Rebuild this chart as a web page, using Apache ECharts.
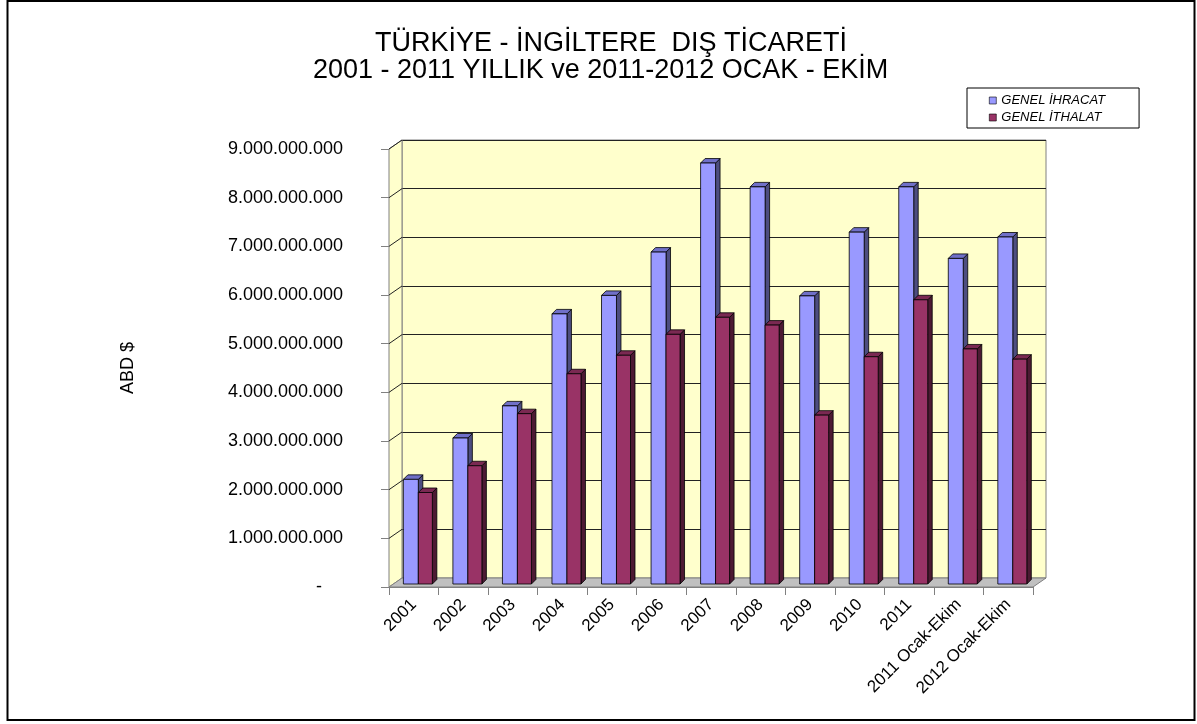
<!DOCTYPE html>
<html>
<head>
<meta charset="utf-8">
<script src="https://cdn.jsdelivr.net/npm/echarts@6/dist/echarts.min.js"></script>
<style>
html,body{margin:0;padding:0;background:#fff;}
#chart{width:1197px;height:724px;}
</style>
</head>
<body>
<div id="chart"></div>
<script>
var categories = ['2001','2002','2003','2004','2005','2006','2007','2008','2009','2010','2011','2011 Ocak-Ekim','2012 Ocak-Ekim'];
var ihracat = [2.15e9, 3.00e9, 3.66e9, 5.55e9, 5.93e9, 6.82e9, 8.65e9, 8.16e9, 5.92e9, 7.23e9, 8.16e9, 6.69e9, 7.13e9];
var ithalat = [1.88e9, 2.43e9, 3.50e9, 4.32e9, 4.70e9, 5.13e9, 5.48e9, 5.32e9, 3.47e9, 4.67e9, 5.84e9, 4.83e9, 4.62e9];
var seriesNames = ['GENEL İHRACAT', 'GENEL İTHALAT'];
var titleLines = ['TÜRKİYE - İNGİLTERE  DIŞ TİCARETİ', '2001 - 2011 YILLIK ve 2011-2012 OCAK - EKİM'];
var yName = 'ABD $';
var yMin = 0, yMax = 9e9, yStep = 1e9;

var FONT = 'Liberation Sans, Arial, sans-serif';
var DEPTH_X = 13, DEPTH_Y = -9;    // back wall offset
var BAR_DX = 4.5, BAR_DY = -4.5;   // bar depth
var BASE_SHIFT_Y = -3;

function fmt(v) {
  if (v === 0) return '{d|-}';
  return String(Math.round(v)).replace(/\B(?=(\d{3})+(?!\d))/g, '.');
}

function barRender(which, colors) {
  return function (params, api) {
    var idx = api.value(0);
    var val = api.value(1);
    var base = api.coord([idx, 0]);
    var top = api.coord([idx, val]);
    var w = api.size([1, 0])[0];
    var x0, x1;
    if (which === 0) { x0 = base[0] - 0.21 * w; x1 = base[0] + 0.092 * w; }
    else { x0 = base[0] + 0.092 * w; x1 = base[0] + 0.375 * w; }
    var yb = base[1] + BASE_SHIFT_Y, yt = top[1] + BASE_SHIFT_Y;
    var lw = 0.8;
    return {
      type: 'group',
      children: [
        { type: 'polygon', shape: { points: [[x1, yb], [x1, yt], [x1 + BAR_DX, yt + BAR_DY], [x1 + BAR_DX, yb + BAR_DY]] },
          style: { fill: colors.side, stroke: '#000', lineWidth: lw } },
        { type: 'polygon', shape: { points: [[x0, yt], [x1, yt], [x1 + BAR_DX, yt + BAR_DY], [x0 + BAR_DX, yt + BAR_DY]] },
          style: { fill: colors.top, stroke: '#000', lineWidth: lw } },
        { type: 'rect', shape: { x: x0, y: yt, width: x1 - x0, height: yb - yt },
          style: { fill: colors.front, stroke: '#000', lineWidth: lw } }
      ]
    };
  };
}

function wallsRender(params, api) {
  var n = categories.length;
  var bl = api.coord([0, yMin]); var tl = api.coord([0, yMax]);
  var w = api.size([1, 0])[0];
  var left = bl[0] - w / 2, right = bl[0] + (n - 0.5) * w;
  var yb = bl[1], yt = tl[1];
  var children = [];
  children.push({ type: 'polygon', shape: { points: [[left, yb], [left, yt], [left + DEPTH_X, yt + DEPTH_Y], [left + DEPTH_X, yb + DEPTH_Y]] },
    style: { fill: '#FFFFCC', stroke: '#808080', lineWidth: 1 } });
  for (var v = yMin + yStep; v <= yMax; v += yStep) {
    var p = api.coord([0, v]);
    children.push({ type: 'line', shape: { x1: left, y1: p[1], x2: left + DEPTH_X, y2: p[1] + DEPTH_Y },
      style: { stroke: '#222', lineWidth: 1 } });
  }
  children.push({ type: 'polygon', shape: { points: [[left, yb], [right, yb], [right + DEPTH_X, yb + DEPTH_Y], [left + DEPTH_X, yb + DEPTH_Y]] },
    style: { fill: '#C0C0C0', stroke: '#808080', lineWidth: 1 } });
  return { type: 'group', children: children };
}

var chart = echarts.init(document.getElementById('chart'));
var gridFront = { left: 389, right: 164, top: 149, bottom: 137 };
var gridBack = { left: 389 + DEPTH_X, right: 164 - DEPTH_X, top: 149 + DEPTH_Y, bottom: 137 - DEPTH_Y };
var titleStyle = { fontFamily: FONT, fontSize: 27, fontWeight: 'normal', color: '#000', lineHeight: 27 };

chart.setOption({
  backgroundColor: '#fff',
  animation: false,
  title: [
    { text: titleLines[0], left: 375, top: 30, padding: 0, textStyle: titleStyle },
    { text: titleLines[1], left: 313, top: 57, padding: 0, textStyle: titleStyle }
  ],
  legend: {
    orient: 'vertical', left: 967, top: 88,
    data: seriesNames,
    icon: 'rect', itemWidth: 7, itemHeight: 7, itemGap: 4,
    padding: [6, 34, 4, 22],
    borderColor: '#000', borderWidth: 1,
    textStyle: { fontFamily: FONT, fontSize: 13, fontStyle: 'italic', color: '#000' },
    itemStyle: { borderColor: '#000', borderWidth: 0.6 }
  },
  graphic: [{
    type: 'rect', shape: { x: 7.5, y: 1, width: 1187, height: 719 },
    style: { fill: 'none', stroke: '#000', lineWidth: 2 }, silent: true, z: 100
  }],
  grid: [
    { left: gridBack.left, right: gridBack.right, top: gridBack.top, bottom: gridBack.bottom, show: true, backgroundColor: '#FFFFCC', borderColor: '#808080', borderWidth: 1 },
    { left: gridFront.left, right: gridFront.right, top: gridFront.top, bottom: gridFront.bottom }
  ],
  xAxis: [
    { gridIndex: 0, type: 'category', data: categories, show: false },
    { gridIndex: 1, type: 'category', data: categories,
      axisLine: { show: true, lineStyle: { color: '#808080', width: 1 } },
      axisTick: { show: true, length: 8, lineStyle: { color: '#808080' } },
      axisLabel: { interval: 0, rotate: 45, margin: 15, fontFamily: FONT, fontSize: 17, color: '#000' } }
  ],
  yAxis: [
    { gridIndex: 0, type: 'value', min: yMin, max: yMax, interval: yStep,
      axisLine: { show: false }, axisTick: { show: false }, axisLabel: { show: false },
      splitLine: { show: true, lineStyle: { color: '#222', width: 1 } } },
    { gridIndex: 1, type: 'value', min: yMin, max: yMax, interval: yStep,
      axisLine: { show: true, lineStyle: { color: '#808080', width: 1 } },
      axisTick: { show: true, inside: false, length: 8, lineStyle: { color: '#808080' } },
      splitLine: { show: false },
      axisLabel: { margin: 46, fontFamily: FONT, fontSize: 18, color: '#000', formatter: fmt,
        rich: { d: { fontFamily: FONT, fontSize: 18, color: '#000', padding: [0, 21, 0, 0] } } },
      name: yName, nameLocation: 'middle', nameGap: 252, nameRotate: 90,
      nameTextStyle: { fontFamily: FONT, fontSize: 18, color: '#000' } }
  ],
  series: [
    { type: 'custom', name: 'walls', xAxisIndex: 1, yAxisIndex: 1, data: [[0, 0]], renderItem: wallsRender, silent: true, z: 1 },
    { type: 'custom', name: seriesNames[0], xAxisIndex: 1, yAxisIndex: 1, z: 2,
      itemStyle: { color: '#9999FF' },
      data: ihracat.map(function (v, i) { return [i, v]; }),
      renderItem: barRender(0, { front: '#9999FF', side: '#4D4D80', top: '#7070C8' }) },
    { type: 'custom', name: seriesNames[1], xAxisIndex: 1, yAxisIndex: 1, z: 3,
      itemStyle: { color: '#993366' },
      data: ithalat.map(function (v, i) { return [i, v]; }),
      renderItem: barRender(1, { front: '#993366', side: '#4D1A33', top: '#7A2952' }) }
  ]
});
</script>
</body>
</html>
